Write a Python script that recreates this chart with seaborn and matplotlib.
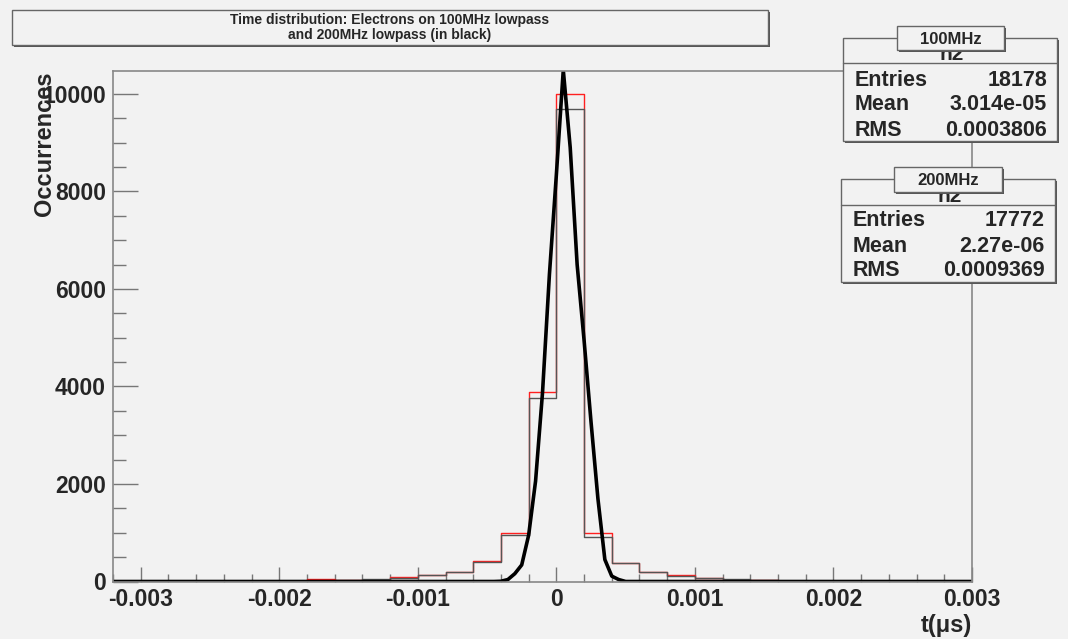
import numpy as np
import pandas as pd
import matplotlib.pyplot as plt
import matplotlib.patches as mpatches
import seaborn as sns

# histogram contents, bins of 0.0002 us from -0.0032 to 0.003
bin_edges = list(np.round(np.linspace(-0.0032, 0.003, 32), 6))
counts_100 = [0, 0, 0, 0, 0, 0, 0, 45, 30, 35, 95, 130, 200, 415, 1000, 3890,
              10000, 990, 370, 190, 130, 80, 40, 35, 15, 0, 0, 15, 0, 0, 0]
counts_200 = [0, 0, 0, 0, 0, 10, 10, 15, 35, 45, 70, 140, 185, 400, 955, 3760,
              9700, 920, 380, 200, 110, 65, 45, 40, 5, 0, 5, 0, 0, 0, 0]

# thick black curve (200MHz)
curve_t = [-0.0032, -0.00045, -0.0004, -0.00035, -0.0003, -0.00025, -0.0002, -0.00015,
           -0.0001, -0.00005, 0.0, 0.00005, 0.0001, 0.00015, 0.0002, 0.00025,
           0.0003, 0.00035, 0.0004, 0.00045, 0.0005, 0.003]
curve_v = [0, 0, 5, 40, 160, 340, 950, 2060, 3870, 6300, 8340, 10490, 8900, 6500,
           4950, 3280, 1700, 450, 110, 40, 0, 0]

stats = {
    "100MHz": [("Entries", "18178"), ("Mean", "3.014e-05"), ("RMS", "0.0003806")],
    "200MHz": [("Entries", "17772"), ("Mean", "2.27e-06"), ("RMS", "0.0009369")],
}

W, H = 1068, 639
bg = "#f2f2f2"
sns.set_style("ticks")
plt.rcParams["font.family"] = ["Liberation Sans", "DejaVu Sans"]
plt.rcParams["font.weight"] = "bold"

fig = plt.figure(figsize=(W / 100, H / 100), dpi=100, facecolor=bg)


def fx(x):
    return x / W


def fy(y):
    return 1 - y / H


ax = fig.add_axes([fx(113), fy(581.5), fx(972) - fx(113), fy(71) - fy(581.5)])
ax.set_facecolor(bg)

centers = [(a + b) / 2 for a, b in zip(bin_edges[:-1], bin_edges[1:])]
df = pd.DataFrame({"t": centers, "c100": counts_100, "c200": counts_200})
sns.histplot(data=df, x="t", weights="c100", bins=bin_edges, element="step", fill=False,
             color="#ff2020", linewidth=1.0, ax=ax)
sns.histplot(data=df, x="t", weights="c200", bins=bin_edges, element="step", fill=False,
             color="#555555", linewidth=1.0, ax=ax)
sns.lineplot(x=curve_t, y=curve_v, color="black", linewidth=2.6, ax=ax)

ax.set_xlim(-0.0032, 0.003)
ax.set_ylim(0, 10470)
ax.set_xticks([-0.003, -0.002, -0.001, 0, 0.001, 0.002, 0.003])
ax.set_xticklabels(["-0.003", "-0.002", "-0.001", "0", "0.001", "0.002", "0.003"])
ax.set_xticks(np.arange(-0.0032, 0.00301, 0.0002), minor=True)
ax.set_yticks([0, 2000, 4000, 6000, 8000, 10000])
ax.set_yticks(np.arange(0, 10470, 500), minor=True)
ax.tick_params(axis="x", which="major", direction="in", length=11, width=1, color="#777777",
               labelsize=16.5, pad=5)
ax.tick_params(axis="x", which="minor", direction="in", length=6, width=1, color="#777777")
ax.tick_params(axis="y", which="major", direction="in", length=18, width=1, color="#777777",
               labelsize=16.5, pad=5)
ax.tick_params(axis="y", which="minor", direction="in", length=9.5, width=1, color="#777777")
for lab in ax.get_xticklabels() + ax.get_yticklabels():
    lab.set_fontweight("bold")
for s in ax.spines.values():
    s.set_color("#888888")
    s.set_linewidth(1.2)

ax.set_ylabel("Occurrences", loc="top", fontsize=17, fontweight="bold")
ax.yaxis.set_label_coords(-0.066, 1.0)
ax.set_xlabel("t(\u03bcs)", loc="right", fontsize=17, fontweight="bold")
ax.xaxis.set_label_coords(1.0, -0.064)


def box(x0, y0, x1, y1, shadow=2, z=5):
    sh = mpatches.Rectangle((fx(x0 + shadow), fy(y1 + shadow)), fx(x1 - x0), fy(y0) - fy(y1),
                            transform=fig.transFigure, facecolor="#555555", edgecolor="none",
                            zorder=z)
    fr = mpatches.Rectangle((fx(x0), fy(y1)), fx(x1 - x0), fy(y0) - fy(y1),
                            transform=fig.transFigure, facecolor=bg, edgecolor="#666666",
                            linewidth=1, zorder=z + 0.1)
    fig.add_artist(sh)
    fig.add_artist(fr)


# title
box(12, 10, 768, 45)
fig.text(fx(390), fy(20), "Time distribution: Electrons on 100MHz lowpass", ha="center",
         va="center", fontsize=10, fontweight="bold", zorder=6)
fig.text(fx(390), fy(35), "and 200MHz lowpass (in black)", ha="center", va="center",
         fontsize=10, fontweight="bold", zorder=6)

# stat boxes
boxes = [("100MHz", 843, 38, 1057, 141, 63, [80, 105, 130], (897, 26, 1004, 50)),
         ("200MHz", 841, 179, 1055, 282, 205, [220, 246, 270], (894, 167, 1002, 192))]
for name, x0, y0, x1, y1, yline, rows, tab in boxes:
    box(x0, y0, x1, y1, shadow=1.5, z=5)
    fig.add_artist(plt.Line2D([fx(x0), fx(x1)], [fy(yline), fy(yline)],
                              transform=fig.transFigure, color="#666666", linewidth=1, zorder=5.5))
    fig.text(fx((x0 + x1) / 2 + 2), fy(yline - 9), "h2", ha="center", va="center",
             fontsize=15, fontweight="bold", zorder=5.6)
    for (lab, val), yy in zip(stats[name], rows):
        fig.text(fx(x0 + 12), fy(yy), lab, ha="left", va="center", fontsize=15.5,
                 fontweight="bold", zorder=6)
        fig.text(fx(x1 - 10), fy(yy), val, ha="right", va="center", fontsize=15.5,
                 fontweight="bold", zorder=6)
    box(*tab, shadow=1.5, z=7)
    fig.text(fx((tab[0] + tab[2]) / 2), fy((tab[1] + tab[3]) / 2 + 1), name, ha="center",
             va="center", fontsize=12, fontweight="bold", zorder=8)

fig.savefig("out.png", dpi=100, facecolor=bg)
